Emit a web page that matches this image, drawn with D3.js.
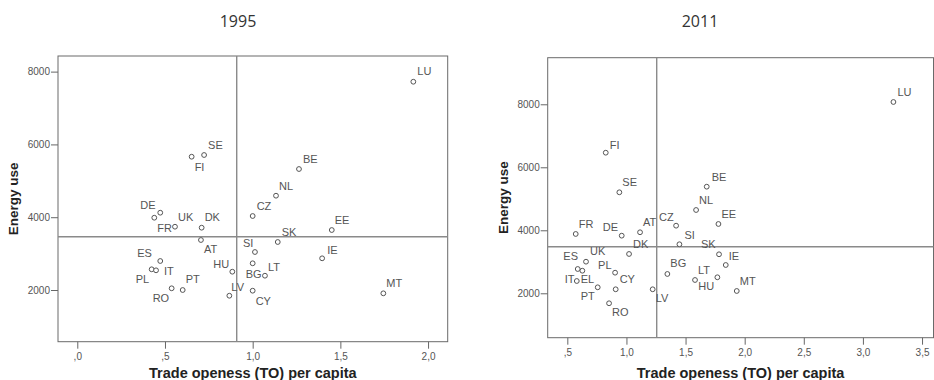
<!DOCTYPE html>
<html>
<head>
<meta charset="utf-8">
<script src="https://cdn.jsdelivr.net/npm/d3@7"></script>
<style>
  body { margin: 0; background: #fff; }
  svg { display: block; }
</style>
</head>
<body>
<div id="chart-div"></div>
<script>
// data
const countries1995 = ["FI","SE","DE","FR","UK","DK","AT","ES","PL","IT","RO","PT","HU","LV","CZ","EE","SK","SI","IE","BG","LT","CY","MT","LU","BE","NL"];
const trade1995  = [0.652,0.723,0.473,0.439,0.557,0.709,0.705,0.473,0.424,0.449,0.538,0.601,0.884,0.867,1.000,1.451,1.143,1.013,1.396,1.000,1.070,1.000,1.745,1.916,1.264,1.133];
const energy1995 = [5662,5709,4124,3986,3739,3712,3374,2797,2569,2541,2047,2000,2503,1843,4033,3648,3319,3044,2871,2734,2393,1981,1909,7722,5324,4591];
const refLines1995 = [0.909, 3464];   // x, y reference lines
const xTicks1995 = [0, 0.5, 1.0, 1.5, 2.0];

const countries2011 = ["FI","SE","NL","BE","LU","FR","DE","AT","CZ","SI","DK","UK","ES","IT","EL","PT","PL","CY","RO","LV","BG","LT","HU","EE","SK","IE","MT"];
const trade2011  = [0.825,0.940,1.589,1.679,3.258,0.571,0.960,1.115,1.420,1.448,1.022,0.658,0.627,0.588,0.580,0.757,0.904,0.909,0.853,1.222,1.346,1.580,1.769,1.778,1.783,1.840,1.933];
const energy2011 = [6463,5206,4644,5384,8073,3883,3829,3937,4146,3556,3248,3003,2717,2771,2390,2190,2654,2127,1683,2127,2613,2422,2508,4200,3238,2898,2073];
const refLines2011 = [1.256, 3479];
const xTicks2011 = [0.5, 1.0, 1.5, 2.0, 2.5, 3.0, 3.5];

const yTicks = [2000, 4000, 6000, 8000];
const titles = ["1995", "2011"];
const xTitle = "Trade openess (TO) per capita";
const yTitle = "Energy use";

// where the label sits relative to its marker (text start, baseline)
const labelOffsets1995 = {FI:[3,14],SE:[4,-6],DE:[-20,-4],FR:[3,14],UK:[3,-6],DK:[3,-7],AT:[3,13],
  ES:[-23,-4],PL:[-16,14],IT:[8,5],RO:[-19,14],PT:[3,-7],HU:[-19,-4],LV:[2,-5],CZ:[4,-6],EE:[3,-6],
  SK:[4,-6],SI:[-12,-5],IE:[5,-4],BG:[-7,15],LT:[3,-5],CY:[3,14],MT:[3,-6],LU:[4,-7],BE:[4,-6],NL:[3,-6]};
const labelOffsets2011 = {FI:[4,-4],SE:[3,-6],NL:[3,-6],BE:[5,-6],LU:[4,-6],FR:[3,-6],DE:[-19,-5],
  AT:[3,-6],CZ:[-17,-5],SI:[5,-5],DK:[4,-6],UK:[4,-7],ES:[-19,-11],IT:[-13,14],EL:[4,2],PT:[-17,13],
  PL:[-17,-4],CY:[4,-6],RO:[3,13],LV:[3,13],BG:[3,-7],LT:[3,-6],HU:[-19,13],EE:[3,-6],SK:[-18,-6],
  IE:[3,-5],MT:[3,-6]};

class ScatterPanel {
//
//   One SPSS style scatter: frame, reference lines, markers with labels
//
    constructor(svg, opts) {
        this.svg = svg;
        this.o = opts;
        this.points = opts.names.map((n, i) => ({name: n, x: opts.xs[i], y: opts.ys[i]}));
    }

    draw() {
        const o = this.o;
        const g = this.svg.append('g');

        const x = d3.scaleLinear().domain(o.xDomain).range([o.left, o.right]);
        const y = d3.scaleLinear().domain(o.yDomain).range([o.bottom, o.top]);

        const fmt = (v) => d3.format('.1f')(v).replace('.', ',').replace(/^0,/, ',');

        // title
        g.append('text')
            .attr('x', o.titleX).attr('y', 27)
            .attr('text-anchor', 'middle')
            .style('font-family', '"Open Sans", sans-serif')
            .style('font-size', '16px')
            .style('fill', '#333')
            .text(o.title);

        // axes
        const xAxis = g.append('g')
            .attr('transform', `translate(0,${o.bottom})`)
            .call(d3.axisBottom(x).tickValues(o.xTicks).tickSize(7).tickSizeOuter(0).tickFormat(fmt));
        const yAxis = g.append('g')
            .attr('transform', `translate(${o.left},0)`)
            .call(d3.axisLeft(y).tickValues(yTicks).tickSize(7).tickSizeOuter(0).tickFormat(d3.format('d')));
        [xAxis, yAxis].forEach(a => {
            a.select('.domain').remove();
            a.selectAll('line').style('stroke', '#666');
            a.selectAll('text')
                .style('font-family', '"Liberation Sans", Arial, sans-serif')
                .style('font-size', '10px')
                .style('fill', '#555');
        });
        xAxis.selectAll('text').attr('y', 11);
        yAxis.selectAll('text').attr('x', -8);

        // frame
        g.append('rect')
            .attr('x', o.left).attr('y', o.top)
            .attr('width', o.right - o.left).attr('height', o.bottom - o.top)
            .style('fill', 'none').style('stroke', '#6a6a6a').style('stroke-width', 1);

        // reference lines
        g.append('line')
            .attr('x1', x(o.refs[0])).attr('x2', x(o.refs[0]))
            .attr('y1', o.top).attr('y2', o.bottom)
            .style('stroke', '#8a8a8a').style('stroke-width', 1.4);
        g.append('line')
            .attr('x1', o.left).attr('x2', o.right)
            .attr('y1', y(o.refs[1])).attr('y2', y(o.refs[1]))
            .style('stroke', '#8a8a8a').style('stroke-width', 1.4);

        // markers
        g.append('g').selectAll('circle')
            .data(this.points)
            .enter()
            .append('circle')
            .attr('cx', d => x(d.x))
            .attr('cy', d => y(d.y))
            .attr('r', 2.4)
            .style('fill', '#fff')
            .style('stroke', '#555')
            .style('stroke-width', 1);

        // point labels
        g.append('g').selectAll('text')
            .data(this.points)
            .enter()
            .append('text')
            .attr('x', d => x(d.x) + (o.offsets[d.name] || [3, -5])[0])
            .attr('y', d => y(d.y) + (o.offsets[d.name] || [3, -5])[1])
            .style('font-family', '"Liberation Sans", Arial, sans-serif')
            .style('font-size', '11px')
            .style('fill', '#555')
            .text(d => d.name);

        // axis titles
        g.append('text')
            .attr('x', (o.left + o.right) / 2).attr('y', 378)
            .attr('text-anchor', 'middle')
            .style('font-family', '"Liberation Sans", Arial, sans-serif')
            .style('font-weight', 'bold')
            .style('font-size', '14.5px')
            .style('fill', '#222')
            .text(xTitle);
        g.append('text')
            .attr('transform', `translate(${o.yTitleX},${(o.top + o.bottom) / 2}) rotate(-90)`)
            .attr('text-anchor', 'middle')
            .style('font-family', '"Liberation Sans", Arial, sans-serif')
            .style('font-weight', 'bold')
            .style('font-size', '13.5px')
            .style('fill', '#222')
            .text(yTitle);
    }
}

const svg = d3.select('#chart-div')
    .append('svg')
    .attr('width', 934)
    .attr('height', 380);

new ScatterPanel(svg, {
    title: titles[0], titleX: 238,
    names: countries1995, xs: trade1995, ys: energy1995, refs: refLines1995,
    xTicks: xTicks1995, xDomain: [-0.11, 2.112], yDomain: [580, 8429],
    left: 58, right: 447.7, top: 56, bottom: 341.7, yTitleX: 18,
    offsets: labelOffsets1995
}).draw();

new ScatterPanel(svg, {
    title: titles[1], titleX: 700,
    names: countries2011, xs: trade2011, ys: energy2011, refs: refLines2011,
    xTicks: xTicks2011, xDomain: [0.334, 3.597], yDomain: [590, 9479],
    left: 547.7, right: 933.5, top: 57.7, bottom: 337.7, yTitleX: 508,
    offsets: labelOffsets2011
}).draw();
</script>
</body>
</html>
